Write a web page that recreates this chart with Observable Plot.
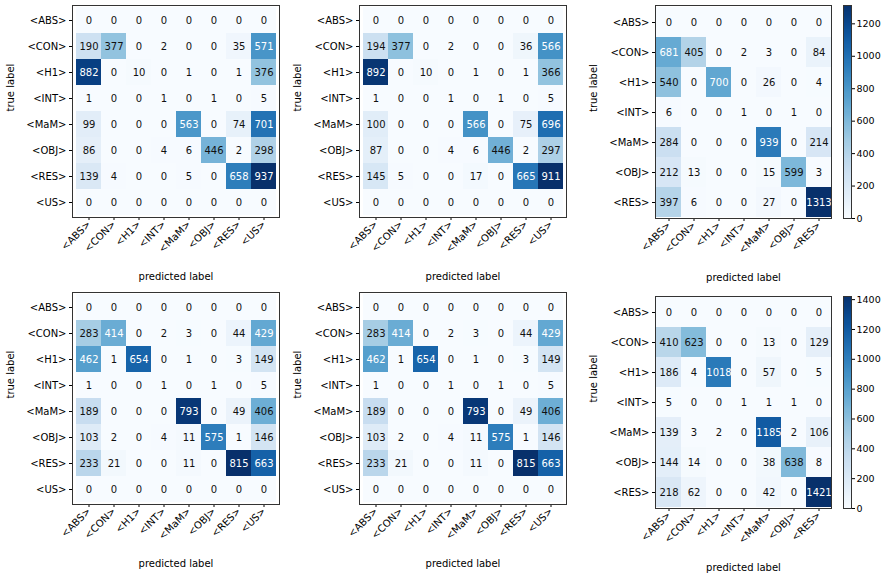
<!DOCTYPE html>
<html><head><meta charset="utf-8">
<script src="https://cdn.jsdelivr.net/npm/d3@7"></script>
<script src="https://cdn.jsdelivr.net/npm/@observablehq/plot@0.6"></script>
<style>body{margin:0;background:#fff;font-family:"DejaVu Sans",sans-serif;overflow:hidden}#c{position:relative;width:881px;height:574px}#c>div{position:absolute}#c svg{max-width:none!important}</style>
</head><body><div id="c"></div>
<script>
const labels8 = ["<ABS>","<CON>","<H1>","<INT>","<MaM>","<OBJ>","<RES>","<US>"];
const labels7 = ["<ABS>","<CON>","<H1>","<INT>","<MaM>","<OBJ>","<RES>"];
const m1 = [
 [0,0,0,0,0,0,0,0],
 [190,377,0,2,0,0,35,571],
 [882,0,10,0,1,0,1,376],
 [1,0,0,1,0,1,0,5],
 [99,0,0,0,563,0,74,701],
 [86,0,0,4,6,446,2,298],
 [139,4,0,0,5,0,658,937],
 [0,0,0,0,0,0,0,0]];
const m2 = [
 [0,0,0,0,0,0,0,0],
 [194,377,0,2,0,0,36,566],
 [892,0,10,0,1,0,1,366],
 [1,0,0,1,0,1,0,5],
 [100,0,0,0,566,0,75,696],
 [87,0,0,4,6,446,2,297],
 [145,5,0,0,17,0,665,911],
 [0,0,0,0,0,0,0,0]];
const m3 = [
 [0,0,0,0,0,0,0],
 [681,405,0,2,3,0,84],
 [540,0,700,0,26,0,4],
 [6,0,0,1,0,1,0],
 [284,0,0,0,939,0,214],
 [212,13,0,0,15,599,3],
 [397,6,0,0,27,0,1313]];
const m4 = [
 [0,0,0,0,0,0,0,0],
 [283,414,0,2,3,0,44,429],
 [462,1,654,0,1,0,3,149],
 [1,0,0,1,0,1,0,5],
 [189,0,0,0,793,0,49,406],
 [103,2,0,4,11,575,1,146],
 [233,21,0,0,11,0,815,663],
 [0,0,0,0,0,0,0,0]];
const m5 = m4.map(r => r.slice());
const m6 = [
 [0,0,0,0,0,0,0],
 [410,623,0,0,13,0,129],
 [186,4,1018,0,57,0,5],
 [5,0,0,1,1,1,0],
 [139,3,2,0,1185,2,106],
 [144,14,0,0,38,638,8],
 [218,62,0,0,42,0,1421]];

function matrix(M, labels, left, top, w, h) {
  const data = [];
  M.forEach((r,i)=>r.forEach((v,j)=>data.push({t:labels[i],p:labels[j],v})));
  const max = d3.max(data,d=>d.v);
  const mL=72, mT=5, mR=8, mB=70;
  const svg = Plot.plot({
    width: mL+w+mR, height: mT+h+mB,
    marginLeft:mL, marginTop:mT, marginRight:mR, marginBottom:mB,
    style:{fontSize:"10px", fontFamily:"DejaVu Sans, sans-serif", color:"#000"},
    x:{domain:labels, padding:0, label:null},
    y:{domain:labels, padding:0, label:null},
    color:{type:"linear", scheme:"blues", domain:[0,max]},
    marks:[
      Plot.cell(data,{x:"p",y:"t",fill:"v"}),
      Plot.text(data,{x:"p",y:"t",text:d=>String(d.v),fontSize:10,fill:d=>d.v>max/2?"white":"#111"}),
      Plot.axisX({tickRotate:-45, tickSize:3, fontSize:10, tickPadding:2}),
      Plot.axisY({tickSize:3, fontSize:10, tickPadding:3}),
      Plot.frame({stroke:"#333"}),
      Plot.text(["predicted label"],{frameAnchor:"bottom",dy:62,fontSize:10}),
      Plot.text(["true label"],{frameAnchor:"left",dx:-62,rotate:-90,fontSize:10})
    ]
  });
  const d = document.createElement("div");
  d.style.left=(left-mL)+"px"; d.style.top=(top-mT)+"px";
  d.style.width=(mL+w+mR)+"px";
  d.appendChild(svg); document.getElementById("c").appendChild(d);
  return max;
}
function colorbar(max, ticks, left, top, h) {
  const steps = d3.range(0,200).map(i=>({a:i*max/200,b:(i+1)*max/200}));
  const svg = Plot.plot({
    width:38, height:h+10, marginLeft:0, marginRight:30, marginTop:5, marginBottom:5,
    style:{fontSize:"9.5px", fontFamily:"DejaVu Sans, sans-serif", color:"#000"},
    y:{domain:[0,max], label:null},
    x:{axis:null, domain:[0,1]},
    color:{type:"linear", scheme:"blues", domain:[0,max]},
    marks:[
      Plot.rect(steps,{y1:"a",y2:"b",x1:0,x2:1,fill:"a",inset:0,shapeRendering:"crispEdges"}),
      Plot.axisY({anchor:"right", ticks, tickFormat:d3.format("d"), tickSize:3, tickPadding:2, fontSize:9.5}),
      Plot.frame({stroke:"#333"})
    ]
  });
  const d = document.createElement("div");
  d.style.left=left+"px"; d.style.top=(top-5)+"px"; d.style.width="38px";
  d.appendChild(svg); document.getElementById("c").appendChild(d);
}
matrix(m1, labels8, 72, 5, 207, 212);
matrix(m2, labels8, 359, 5, 207, 212);
const x3 = matrix(m3, labels7, 655, 5, 176, 213);
matrix(m4, labels8, 72, 292, 207, 212);
matrix(m5, labels8, 359, 292, 207, 212);
const x6 = matrix(m6, labels7, 655, 296, 176, 212);
colorbar(x3, [0,200,400,600,800,1000,1200], 843, 5, 213);
colorbar(x6, [0,200,400,600,800,1000,1200,1400], 843, 296, 212);
</script></body></html>
